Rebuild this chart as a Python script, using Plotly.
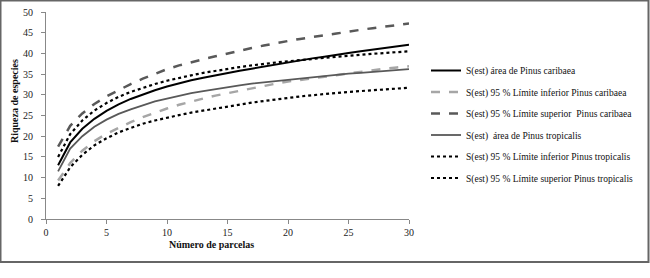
import plotly.graph_objects as go

parcelas = list(range(1, 31))

sest_caribaea = [13.0, 18.5, 21.8, 24.2, 26.1, 27.7, 29.0, 30.1, 31.1, 32.0,
                 32.8, 33.5, 34.1, 34.7, 35.2, 35.8, 36.3, 36.8, 37.3, 37.9,
                 38.4, 38.8, 39.2, 39.7, 40.1, 40.5, 40.9, 41.3, 41.7, 42.1]
inf_caribaea = [9.3, 13.5, 16.5, 18.8, 20.6, 22.1, 23.4, 24.6, 25.7, 26.7,
                27.6, 28.4, 29.1, 29.8, 30.4, 31.0, 31.6, 32.1, 32.7, 33.2,
                33.6, 34.0, 34.4, 34.8, 35.2, 35.6, 35.9, 36.3, 36.6, 36.9]
sup_caribaea = [17.5, 22.5, 25.5, 27.8, 29.6, 31.2, 32.6, 33.9, 35.1, 36.2,
                37.1, 37.9, 38.6, 39.3, 40.0, 40.7, 41.3, 41.9, 42.5, 43.0,
                43.5, 44.0, 44.4, 44.8, 45.3, 45.7, 46.1, 46.5, 46.9, 47.2]
sest_tropicalis = [11.5, 17.0, 20.0, 22.3, 24.0, 25.4, 26.5, 27.5, 28.4, 29.1,
                   29.8, 30.4, 30.9, 31.4, 31.9, 32.3, 32.7, 33.0, 33.4, 33.7,
                   34.0, 34.3, 34.6, 34.8, 35.1, 35.3, 35.5, 35.8, 36.0, 36.2]
inf_tropicalis = [8.0, 12.5, 15.5, 17.8, 19.5, 20.9, 22.0, 23.0, 23.8, 24.5,
                  25.1, 25.7, 26.2, 26.7, 27.2, 27.7, 28.1, 28.5, 28.9, 29.3,
                  29.6, 29.9, 30.2, 30.4, 30.7, 30.9, 31.1, 31.3, 31.5, 31.7]
sup_tropicalis = [15.0, 20.5, 23.8, 26.2, 28.0, 29.5, 30.7, 31.7, 32.6, 33.4,
                  34.1, 34.7, 35.3, 35.8, 36.3, 36.7, 37.1, 37.5, 37.8, 38.1,
                  38.4, 38.7, 38.9, 39.2, 39.4, 39.7, 39.9, 40.1, 40.3, 40.5]

names = ["S(est) área de Pinus caribaea",
         "S(est) 95 % Límite inferior Pinus caribaea",
         "S(est) 95 % Límite superior  Pinus caribaea",
         "S(est)  área de Pinus tropicalis",
         "S(est) 95 % Límite inferior Pinus tropicalis",
         "S(est) 95 % Límite superior Pinus tropicalis"]
series = [sest_caribaea, inf_caribaea, sup_caribaea, sest_tropicalis, inf_tropicalis, sup_tropicalis]
styles = [dict(color="#000000", width=2, dash="solid"),
          dict(color="#a6a6a6", width=2.5, dash="dash"),
          dict(color="#595959", width=2.5, dash="dash"),
          dict(color="#595959", width=1.8, dash="solid"),
          dict(color="#000000", width=2.2, dash="dot"),
          dict(color="#000000", width=2.2, dash="dot")]

fig = go.Figure()
for i, (nm, ys, st) in enumerate(zip(names, series, styles)):
    fig.add_trace(go.Scatter(x=parcelas, y=ys, mode="lines", name=nm, line=st,
                             legendgroup=f"g{i}"))

W, H = 650, 278
L, R, T, B = 46, 409, 12, 219
pw, ph = R - L, B - T

def px(xp):
    return (xp - L) / pw

def py(yp):
    return (B - yp) / ph

FAM = "Liberation Serif"
font = dict(family=FAM, size=10, color="#222")

fig.update_layout(
    width=W, height=H,
    margin=dict(l=L, r=W - R, t=T, b=H - B, pad=0, autoexpand=False),
    paper_bgcolor="white", plot_bgcolor="white",
    font=font,
    showlegend=True,
    legend=dict(x=px(426), y=py(56), xanchor="left", yanchor="top",
                font=dict(family=FAM, size=9.5, color="#111"),
                tracegroupgap=2.5, bgcolor="rgba(0,0,0,0)"),
    xaxis=dict(range=[0, 30], tickvals=[0, 5, 10, 15, 20, 25, 30], showgrid=False, zeroline=False,
               showline=True, linecolor="#888", linewidth=1, ticks="outside", ticklen=4,
               tickcolor="#888", tickfont=font),
    yaxis=dict(range=[0, 50], tickvals=[0, 5, 10, 15, 20, 25, 30, 35, 40, 45, 50], showgrid=False,
               zeroline=False, showline=True, linecolor="#888", linewidth=1, ticks="outside",
               ticklen=4, tickcolor="#888", tickfont=font, ticklabelstandoff=6),
    annotations=[
        dict(text="<b>Número de parcelas</b>", x=px(211), y=py(244), xref="paper", yref="paper",
             showarrow=False, xanchor="center", yanchor="middle",
             font=dict(family=FAM, size=10, color="#111")),
        dict(text="<b>Riqueza de especies</b>", x=px(14), y=py(101), xref="paper", yref="paper",
             showarrow=False, xanchor="center", yanchor="middle", textangle=-90,
             font=dict(family=FAM, size=10, color="#111")),
    ],
    shapes=[
        dict(type="rect", xref="paper", yref="paper", x0=px(0.5), x1=px(648.5), y0=py(262), y1=py(0.5),
             line=dict(color="#666", width=2), fillcolor="rgba(0,0,0,0)", layer="below"),
    ],
)

fig.write_html("out.html", config={"displayModeBar": False},
               post_script="document.body.style.margin='0';document.body.style.padding='0';")
